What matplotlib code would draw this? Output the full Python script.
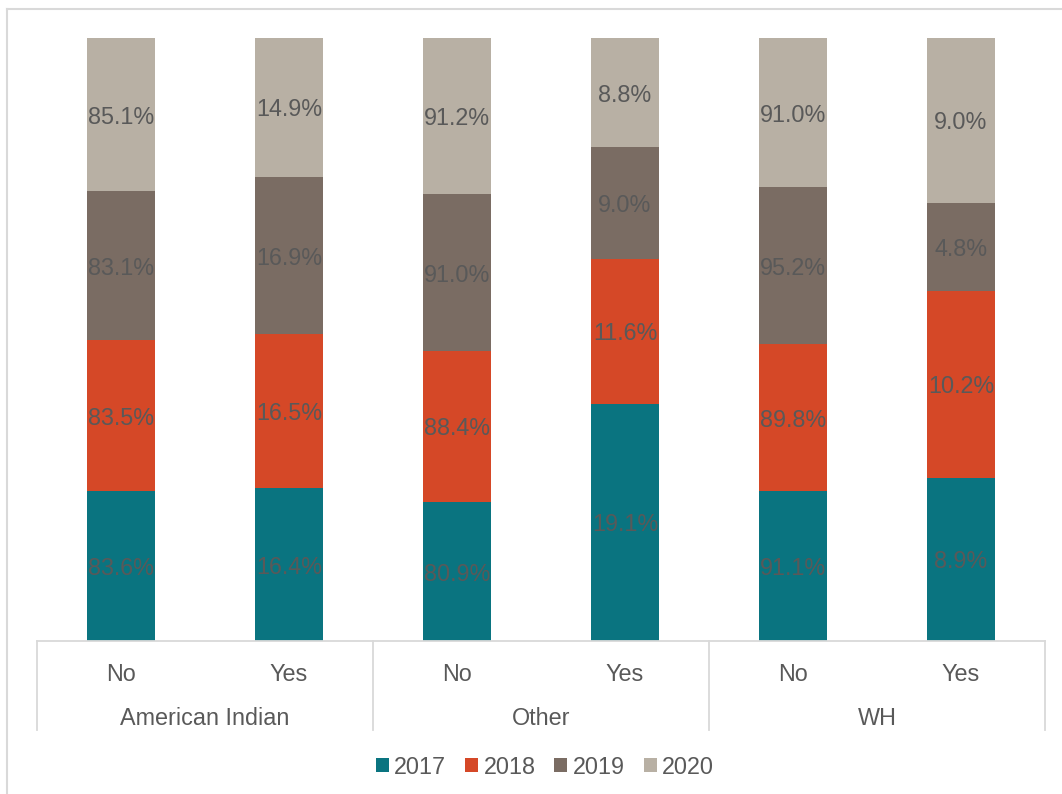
import matplotlib.pyplot as plt
from matplotlib.lines import Line2D
import numpy as np

plt.rcParams['font.family'] = ['Liberation Sans', 'DejaVu Sans']

groups = ['American Indian', 'Other', 'WH']
subcats = ['No', 'Yes', 'No', 'Yes', 'No', 'Yes']
years = ['2017', '2018', '2019', '2020']
v2017 = [83.6, 16.4, 80.9, 19.1, 91.1, 8.9]
v2018 = [83.5, 16.5, 88.4, 11.6, 89.8, 10.2]
v2019 = [83.1, 16.9, 91.0, 9.0, 95.2, 4.8]
v2020 = [85.1, 14.9, 91.2, 8.8, 91.0, 9.0]
colors = ['#0a7480', '#d54827', '#7a6c63', '#b8b0a4']

W, H = 1062, 794
fig = plt.figure(figsize=(W / 100, H / 100), dpi=100)
ax = fig.add_axes([37 / W, (H - 641) / H, (1045 - 37) / W, (641 - 38) / H])

series = np.array([v2017, v2018, v2019, v2020])
totals = series.sum(axis=0)
x = np.arange(len(subcats)) + 0.5
bottom = np.zeros(len(subcats))
txt = '#595959'
fs = 16.8
for vals, col, yr in zip(series, colors, years):
    h = vals / totals
    ax.bar(x, h, 0.405, bottom=bottom, color=col, label=yr)
    for xi, b, hi, v in zip(x, bottom, h, vals):
        ax.text(xi, b + hi / 2, '%.1f%%' % v, ha='center',
                va='center_baseline', fontsize=fs, color=txt)
    bottom += h

ax.set_xlim(0, 6)
ax.set_ylim(0, 1)
ax.axis('off')

# multi-level category axis
grid_c = '#d9d9d9'
y0 = (H - 641) / H
y1 = (H - 730) / H
fig.add_artist(Line2D([37 / W, 1045 / W], [y0, y0], color=grid_c, lw=1.3))
for px in [37, 373, 709, 1045]:
    fig.add_artist(Line2D([px / W, px / W], [y0, y1], color=grid_c, lw=1.3))
for xi, s in zip(x, subcats):
    fig.text((37 + xi * 168) / W, (H - 672) / H, s, ha='center',
             va='center_baseline', fontsize=fs, color=txt)
for i, g in enumerate(groups):
    fig.text((37 + 168 + i * 336) / W, (H - 716) / H, g, ha='center',
             va='center_baseline', fontsize=fs, color=txt)

# outer chart border
fig.add_artist(Line2D([7 / W, 7 / W], [0, (H - 9) / H], color=grid_c, lw=1.5))
fig.add_artist(Line2D([7 / W, 1], [(H - 9) / H, (H - 9) / H], color=grid_c, lw=1.5))

fig.legend(loc='center', bbox_to_anchor=(545 / W, (H - 767) / H), ncol=4,
           frameon=False, fontsize=fs, handlelength=0.55, handleheight=0.55,
           handletextpad=0.25, columnspacing=0.8, labelcolor=txt)

fig.savefig('out.png', dpi=100)
